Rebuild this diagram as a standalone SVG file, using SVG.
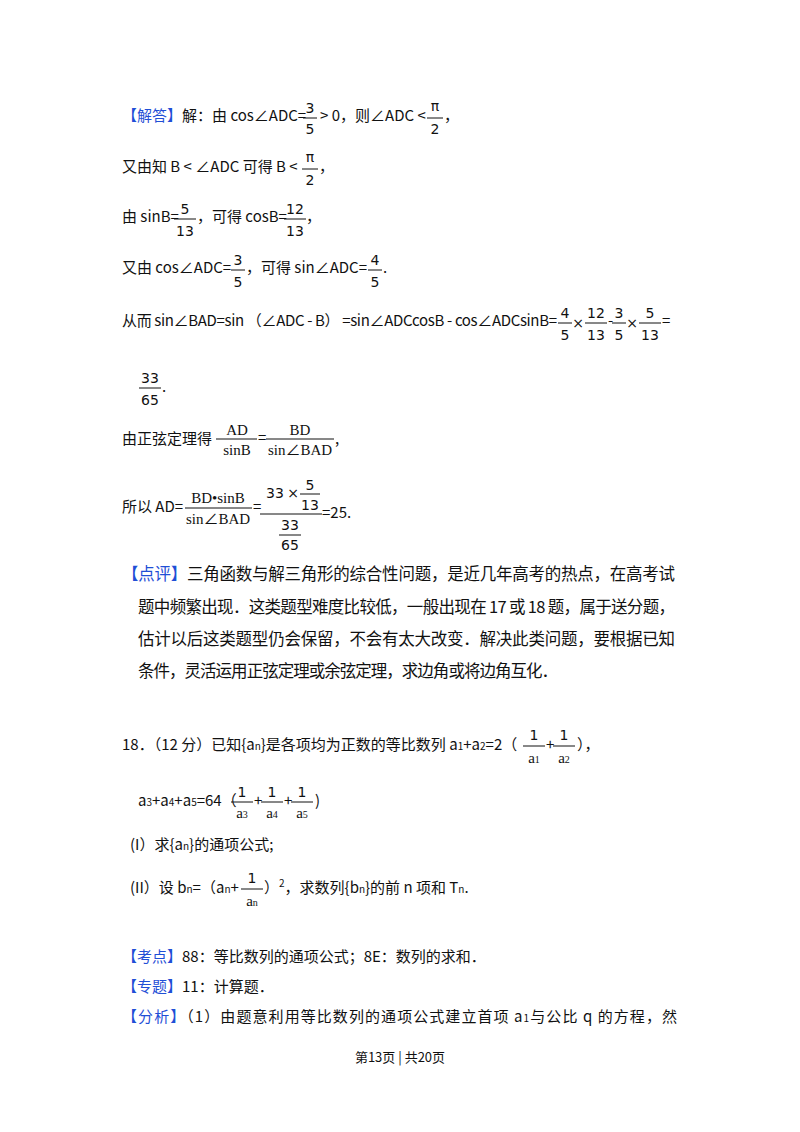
<svg xmlns="http://www.w3.org/2000/svg" width="800" height="1132" viewBox="0 0 800 1132">
<style>
text{font-family:"Noto Sans CJK SC","Noto Sans",sans-serif;font-size:15px;fill:#111}
.b{fill:#1f4fd6}
.m{font-family:"Liberation Serif","Noto Sans CJK SC",serif;font-size:15px}
.f{font-family:"DejaVu Sans",sans-serif;font-size:14px;text-anchor:middle}
.s{font-size:10px}
.c{font-size:16.5px}
line{stroke:#111;stroke-width:1}
</style>
<rect width="800" height="1132" fill="#fff"/>
<g id="line1">
<text x="122" y="121"><tspan class="b">【解答】</tspan>解：由 cos∠ADC=</text>
<text class="f" x="310" y="113">3</text><line x1="303" y1="118" x2="317" y2="118"/><text class="f" x="310" y="134">5</text>
<text x="320" y="121">&gt; 0，则∠ADC &lt;</text>
<text class="f" x="435" y="111">π</text><line x1="427" y1="118" x2="443" y2="118"/><text class="f" x="435" y="134">2</text>
<text x="444" y="121">，</text>
</g>
<g id="line2">
<text x="122" y="172">又由知 B &lt; ∠ADC 可得 B &lt;</text>
<text class="f" x="310" y="162">π</text><line x1="302" y1="169" x2="318" y2="169"/><text class="f" x="310" y="185">2</text>
<text x="319" y="172">，</text>
</g>
<g id="line3">
<text x="122" y="222">由 sinB=</text>
<text class="f" x="185" y="214">5</text><line x1="174" y1="219" x2="196" y2="219"/><text class="f" x="185" y="236">13</text>
<text x="197" y="222">，可得 cosB=</text>
<text class="f" x="295" y="214">12</text><line x1="284" y1="219" x2="306" y2="219"/><text class="f" x="295" y="236">13</text>
<text x="306" y="222">，</text>
</g>
<g id="line4">
<text x="122" y="273">又由 cos∠ADC=</text>
<text class="f" x="238" y="265">3</text><line x1="231" y1="270" x2="245" y2="270"/><text class="f" x="238" y="287">5</text>
<text x="246" y="273">，可得 sin∠ADC=</text>
<text class="f" x="375" y="265">4</text><line x1="368" y1="270" x2="382" y2="270"/><text class="f" x="375" y="287">5</text>
<text x="383" y="273">.</text>
</g>
<g id="line5">
<text x="122" y="326" textLength="435">从而 sin∠BAD=sin （∠ADC - B） =sin∠ADCcosB - cos∠ADCsinB=</text>
<text class="f" x="565" y="318">4</text><line x1="558" y1="323" x2="572" y2="323"/><text class="f" x="565" y="340">5</text>
<text class="f" x="578" y="328">×</text>
<text class="f" x="596" y="318">12</text><line x1="585" y1="323" x2="607" y2="323"/><text class="f" x="596" y="340">13</text>
<text x="608" y="326">-</text>
<text class="f" x="619" y="318">3</text><line x1="612" y1="323" x2="626" y2="323"/><text class="f" x="619" y="340">5</text>
<text class="f" x="632" y="328">×</text>
<text class="f" x="650" y="318">5</text><line x1="639" y1="323" x2="661" y2="323"/><text class="f" x="650" y="340">13</text>
<text x="662" y="326">=</text>
</g>
<g id="line6">
<text class="f" x="150" y="383">33</text><line x1="139" y1="388" x2="161" y2="388"/><text class="f" x="150" y="405">65</text>
<text x="162" y="392">.</text>
</g>
<g id="line7">
<text x="122" y="444">由正弦定理得</text>
<text class="m" x="237" y="435" text-anchor="middle">AD</text><line x1="216" y1="439" x2="257" y2="439"/><text class="m" x="237" y="455" text-anchor="middle">sinB</text>
<text x="258" y="443">=</text>
<text class="m" x="300" y="435" text-anchor="middle">BD</text><line x1="266" y1="439" x2="334" y2="439"/><text class="m" x="300" y="455" text-anchor="middle">sin∠BAD</text>
<text x="335" y="444">,</text>
</g>
<g id="line8">
<text x="122" y="512">所以 AD=</text>
<text class="m" x="218" y="503" text-anchor="middle">BD•sinB</text><line x1="185" y1="508" x2="252" y2="508"/><text class="m" x="218" y="524" text-anchor="middle">sin∠BAD</text>
<text x="253" y="512">=</text>
<text class="f" x="275" y="498">33</text><text class="f" x="293" y="498">×</text>
<text class="f" x="310" y="490">5</text><line x1="300" y1="494" x2="320" y2="494"/><text class="f" x="310" y="510">13</text>
<line x1="260" y1="514" x2="322" y2="514"/>
<text class="f" x="290" y="530">33</text><line x1="279" y1="535" x2="301" y2="535"/><text class="f" x="290" y="550">65</text>
<text x="322" y="518">=25.</text>
</g>
<g id="comment">
<text class="c" x="122" y="580" textLength="553"><tspan class="b">【点评】</tspan>三角函数与解三角形的综合性问题，是近几年高考的热点，在高考试</text>
<text class="c" x="138" y="613" textLength="537">题中频繁出现．这类题型难度比较低，一般出现在 17 或 18 题，属于送分题，</text>
<text class="c" x="138" y="645" textLength="537">估计以后这类题型仍会保留，不会有太大改变．解决此类问题，要根据已知</text>
<text class="c" x="138" y="677" textLength="420">条件，灵活运用正弦定理或余弦定理，求边角或将边角互化．</text>
</g>
<g id="q18">
<text x="122" y="750">18．（12 分）已知{a<tspan class="s">n</tspan>}是各项均为正数的等比数列 a<tspan class="s">1</tspan>+a<tspan class="s">2</tspan>=2（</text>
<text class="f" x="534" y="740">1</text><line x1="523" y1="746" x2="545" y2="746"/><text class="m" x="534" y="763" text-anchor="middle">a<tspan class="s">1</tspan></text>
<text x="546" y="750">+</text>
<text class="f" x="564" y="740">1</text><line x1="553" y1="746" x2="575" y2="746"/><text class="m" x="564" y="763" text-anchor="middle">a<tspan class="s">2</tspan></text>
<text x="577" y="750">），</text>
<text x="138" y="806">a<tspan class="s">3</tspan>+a<tspan class="s">4</tspan>+a<tspan class="s">5</tspan>=64（</text>
<text class="f" x="242" y="797">1</text><line x1="231" y1="802" x2="253" y2="802"/><text class="m" x="242" y="818" text-anchor="middle">a<tspan class="s">3</tspan></text>
<text x="254" y="806">+</text>
<text class="f" x="272" y="797">1</text><line x1="261" y1="802" x2="283" y2="802"/><text class="m" x="272" y="818" text-anchor="middle">a<tspan class="s">4</tspan></text>
<text x="284" y="806">+</text>
<text class="f" x="302" y="797">1</text><line x1="291" y1="802" x2="313" y2="802"/><text class="m" x="302" y="818" text-anchor="middle">a<tspan class="s">5</tspan></text>
<text x="315" y="806">)</text>
<text x="130" y="850">(I）求{a<tspan class="s">n</tspan>}的通项公式;</text>
<text x="130" y="893">(II）设 b<tspan class="s">n</tspan>=（a<tspan class="s">n</tspan>+</text>
<text class="f" x="252" y="883">1</text><line x1="241" y1="889" x2="263" y2="889"/><text class="m" x="252" y="906" text-anchor="middle">a<tspan class="s">n</tspan></text>
<text x="264" y="893">）<tspan class="s" dy="-6">2</tspan><tspan dy="6">，求数列{b</tspan><tspan class="s">n</tspan>}的前 n 项和 T<tspan class="s">n</tspan>.</text>
</g>
<g id="analysis">
<text x="122" y="962"><tspan class="b">【考点】</tspan>88：等比数列的通项公式；8E：数列的求和．</text>
<text x="122" y="992"><tspan class="b">【专题】</tspan>11：计算题．</text>
<text x="122" y="1022" textLength="555"><tspan class="b">【分析】</tspan>（1）由题意利用等比数列的通项公式建立首项 a<tspan class="s">1</tspan>与公比 q 的方程，然</text>
</g>
<text x="400" y="1062" text-anchor="middle" style="font-size:13px">第13页 | 共20页</text>
</svg>
